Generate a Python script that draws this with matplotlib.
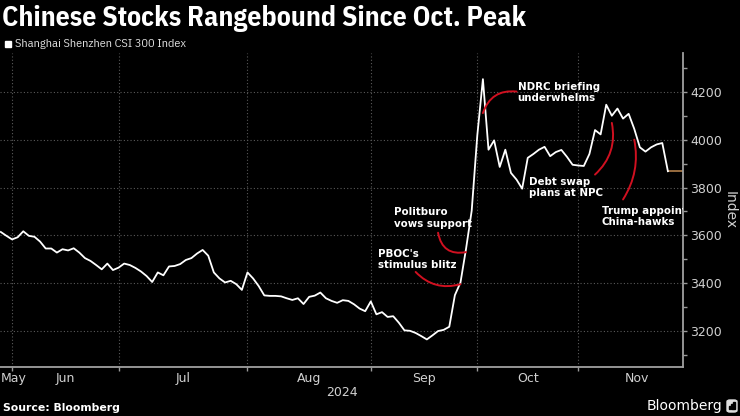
import matplotlib
matplotlib.use("Agg")
import matplotlib.pyplot as plt
from matplotlib.patches import Rectangle, FancyBboxPatch
import numpy as np
import pandas as pd

# --- Data (CSI 300 daily closes) ---
START, END = "2024-05-29", "2024-11-22"
HOLIDAYS = ["2024-06-10", "2024-09-16", "2024-09-17", "2024-10-01", "2024-10-02",
            "2024-10-03", "2024-10-04", "2024-10-07"]

closes = [
    3614, 3598, 3583, 3592, 3617, 3598, 3594, 3574, 3545, 3545,
    3528, 3542, 3537, 3546, 3528, 3505, 3493, 3476, 3458, 3482,
    3455, 3465, 3482, 3476, 3464, 3449, 3430, 3405, 3445, 3433,
    3470, 3472, 3480, 3497, 3505, 3524, 3539, 3515, 3445, 3420,
    3403, 3410, 3396, 3372, 3445, 3420, 3388, 3349, 3347, 3347,
    3345, 3337, 3330, 3337, 3313, 3343, 3348, 3361, 3337, 3326,
    3318, 3329, 3326, 3312, 3294, 3283, 3324, 3270, 3279, 3259,
    3262, 3235, 3203, 3201, 3192, 3179, 3165, 3182, 3200, 3205,
    3218, 3350, 3403, 3545, 3703, 4018, 4253, 3958, 3997, 3886,
    3958, 3861, 3833, 3795, 3924, 3940, 3958, 3970, 3931, 3948,
    3957, 3928, 3895, 3892, 3890, 3940, 4040, 4022, 4146, 4100,
    4130, 4088, 4108, 4045, 3968, 3950, 3968, 3980, 3986, 3868,
]

month_labels = ["May", "Jun", "Jul", "Aug", "Sep", "Oct", "Nov"]
y_ticks = [3200, 3400, 3600, 3800, 4000, 4200]

# events: (label, date the text sits at, value of text top, arc start, arc end, curvature)
events = [
    ("NDRC briefing\nunderwhelms", "2024-10-16", 4242, ("2024-10-16", 4201), ("2024-10-08", 4111), 0.4),
    ("Debt swap\nplans at NPC", "2024-10-18", 3845, ("2024-11-05", 3854), ("2024-11-08", 4070), 0.28),
    ("Trump appoints\nChina-hawks", "2024-11-06", 3722, ("2024-11-12", 3750), ("2024-11-14", 4000), 0.2),
    ("Politburo\nvows support", "2024-09-05", 3717, ("2024-09-19", 3611), ("2024-09-26", 3530), 0.5),
    ("PBOC's\nstimulus blitz", "2024-09-02", 3542, ("2024-09-11", 3447), ("2024-09-25", 3396), 0.3),
]

# trading calendar -> integer position on the x axis
dates = pd.bdate_range(START, END)
dates = dates[~dates.isin(pd.to_datetime(HOLIDAYS))]
pos = {d: i for i, d in enumerate(dates)}
x = np.arange(len(dates))


def xpos(day):
    return pos[pd.Timestamp(day)]


# month boundaries: last trading day of every month
s = pd.Series(x, index=dates)
month_ends = s.groupby(dates.to_period("M")).max().values
nov_days = 21  # trading days in Nov 2024
bounds = list(month_ends[:-1]) + [month_ends[-2] + nov_days]
label_pos = [2.35] + [(a + b) / 2 for a, b in zip(bounds[:-1], bounds[1:])]
XMAX = month_ends[-1] + 2.7

BG = "black"
TICK_C = "#d0d0d0"
RED = "#d01020"
COND = ["IBM Plex Sans Condensed", "DejaVu Sans"]

fig = plt.figure(figsize=(7.4, 4.16), dpi=100, facecolor=BG)
ax = fig.add_axes([0.0, 0.1185, 0.923, 0.754], facecolor=BG)

ax.plot(x, closes, color="white", lw=1.3, zorder=3)
ax.plot([x[-1], XMAX], [closes[-1], closes[-1]], color="#c08a50", lw=1.1, zorder=2)

ax.set_xlim(-0.15, XMAX)
ax.set_ylim(3051, 4362)

# x axis
ax.set_xticks(bounds[:-1])
ax.set_xticklabels([])
ax.set_xticks(label_pos, minor=True)
ax.set_xticklabels(month_labels, minor=True)
ax.tick_params(axis="x", which="major", length=3, color="#999999", width=1)
ax.tick_params(axis="x", which="minor", length=0, pad=4, labelsize=9, labelcolor=TICK_C)
ax.text(0.5, -0.082, "2024", transform=ax.transAxes, ha="center", va="center",
        color=TICK_C, fontsize=9)

# y axis on the right
ax.yaxis.tick_right()
ax.set_yticks(y_ticks)
ax.set_yticks(np.arange(3100, 4400, 100), minor=True)
ax.tick_params(axis="y", which="both", length=3, color="#999999", width=1,
               labelsize=9, labelcolor=TICK_C, pad=2)
ax.yaxis.set_label_position("right")
ax.set_ylabel("Index", color=TICK_C, fontsize=10, rotation=270, labelpad=11)

ax.grid(True, which="major", color="#5a5a5a", linestyle=(0, (1, 2)), lw=0.8)
for side in ["top", "left"]:
    ax.spines[side].set_visible(False)
for side in ["bottom", "right"]:
    ax.spines[side].set_color("#a0a0a0")
    ax.spines[side].set_linewidth(1.3)

# annotations
for label, tday, tval, a, b, rad in events:
    ax.text(xpos(tday) + 0.2, tval, label, color="white", fontsize=7.4, fontweight="bold",
            ha="left", va="top", linespacing=1.15, clip_on=True, zorder=4)
    ax.annotate("", xy=(xpos(b[0]), b[1]), xytext=(xpos(a[0]), a[1]),
                arrowprops=dict(arrowstyle="-", color=RED, lw=1.4,
                                connectionstyle=f"arc3,rad={rad}",
                                shrinkA=0, shrinkB=0), zorder=4)

# title, legend, footer
fig.text(0.003, 0.955, "Chinese Stocks Rangebound Since Oct. Peak", color="white",
         fontsize=20, fontweight="bold", va="center", ha="left", family=COND)
fig.patches.append(Rectangle((5 / 740, 1 - 47 / 416), 6 / 740, 6 / 416,
                             transform=fig.transFigure, color="white"))
fig.text(15 / 740, 1 - 44 / 416, "Shanghai Shenzhen CSI 300 Index", color="#dddddd",
         fontsize=8.8, va="center", ha="left", family=COND)
fig.text(3 / 740, 1 - 408 / 416, "Source: Bloomberg", color="white", fontsize=7.8,
         fontweight="bold", va="center", ha="left")
fig.text(722 / 740, 1 - 406 / 416, "Bloomberg", color="white", fontsize=10,
         va="center", ha="right")
fig.patches.append(FancyBboxPatch((727 / 740, 1 - 412 / 416), 10 / 740, 12 / 416,
                                  boxstyle="round,pad=0,rounding_size=0.004",
                                  transform=fig.transFigure, color="#e0e0e0"))
for k, h in enumerate([3, 5, 7]):
    fig.patches.append(Rectangle(((729 + 2.2 * k) / 740, 1 - 409 / 416), 1.3 / 740, h / 416,
                                 transform=fig.transFigure, color="black"))

fig.savefig("out.png", dpi=100, facecolor=BG)
